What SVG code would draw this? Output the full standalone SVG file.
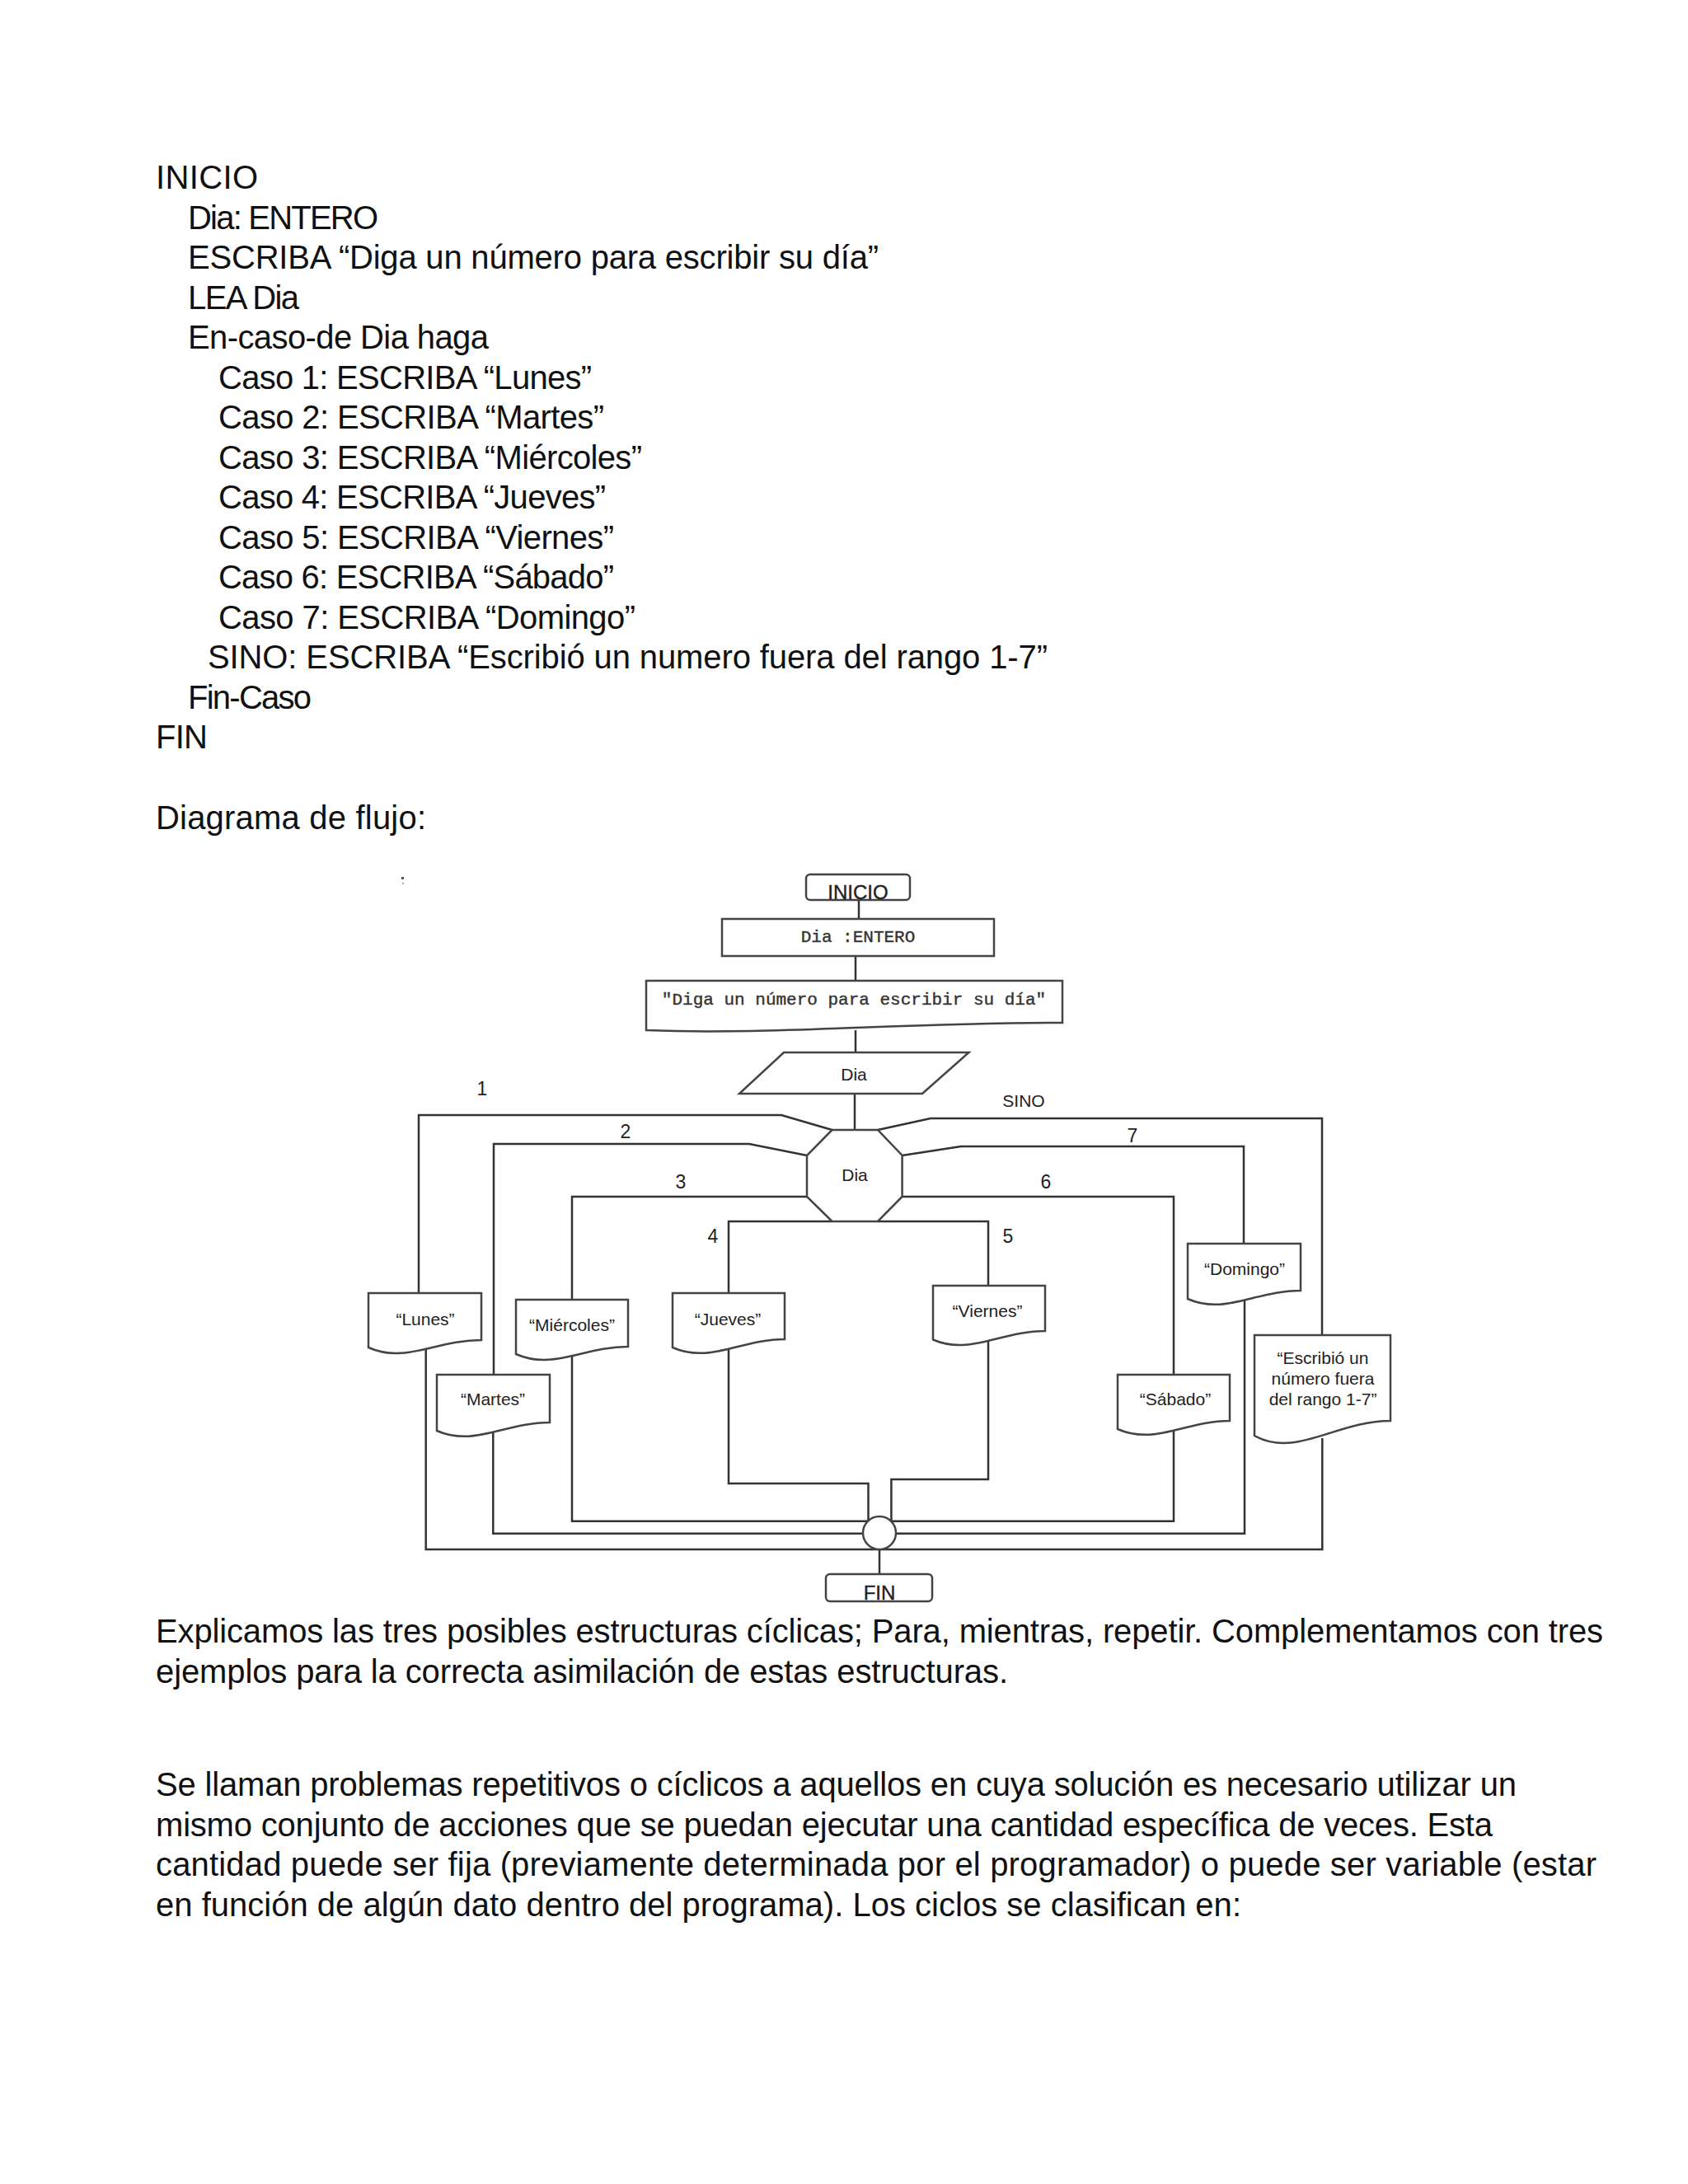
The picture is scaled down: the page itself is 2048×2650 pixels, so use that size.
<svg xmlns="http://www.w3.org/2000/svg" width="2048" height="2650" viewBox="0 0 2048 2650">
<style>
.body{font-family:"Liberation Sans",Arial,sans-serif;font-size:40px;fill:#111}
.lbl{font-family:"Liberation Sans",Arial,sans-serif;font-size:21px;fill:#222;text-anchor:middle}
.num{font-family:"Liberation Sans",Arial,sans-serif;font-size:23px;fill:#222;text-anchor:middle}
.term{font-family:"Liberation Sans",Arial,sans-serif;font-size:24px;fill:#222;text-anchor:middle;stroke:#222;stroke-width:0.4}
.mono{font-family:"Liberation Mono","Courier New",monospace;font-size:21px;fill:#333;text-anchor:middle;stroke:#333;stroke-width:0.4}
.box{fill:#fff;stroke:#444;stroke-width:2.5}
.con{fill:none;stroke:#333;stroke-width:2.5}
</style>
<rect width="2048" height="2650" fill="#fff"/>
<g id="pseudocode">
<text class="body" x="189" y="229" textLength="124">INICIO</text>
<text class="body" x="228" y="277.5" textLength="231">Dia: ENTERO</text>
<text class="body" x="228" y="326" textLength="838">ESCRIBA “Diga un número para escribir su día”</text>
<text class="body" x="228" y="374.5" textLength="135">LEA Dia</text>
<text class="body" x="228" y="423" textLength="365">En-caso-de Dia haga</text>
<text class="body" x="265" y="471.5" textLength="453">Caso 1: ESCRIBA “Lunes”</text>
<text class="body" x="265" y="520" textLength="468">Caso 2: ESCRIBA “Martes”</text>
<text class="body" x="265" y="568.5" textLength="514">Caso 3: ESCRIBA “Miércoles”</text>
<text class="body" x="265" y="617" textLength="470">Caso 4: ESCRIBA “Jueves”</text>
<text class="body" x="265" y="665.5" textLength="480">Caso 5: ESCRIBA “Viernes”</text>
<text class="body" x="265" y="714" textLength="480">Caso 6: ESCRIBA “Sábado”</text>
<text class="body" x="265" y="762.5" textLength="506">Caso 7: ESCRIBA “Domingo”</text>
<text class="body" x="252" y="811" textLength="1019">SINO: ESCRIBA “Escribió un numero fuera del rango 1-7”</text>
<text class="body" x="228" y="859.5" textLength="150">Fin-Caso</text>
<text class="body" x="189" y="908" textLength="63">FIN</text>
<text class="body" x="189" y="1006" textLength="328">Diagrama de flujo:</text>
</g>
<g id="paragraphs">
<text class="body" x="189" y="1993" textLength="1756">Explicamos las tres posibles estructuras cíclicas; Para, mientras, repetir. Complementamos con tres</text>
<text class="body" x="189" y="2042" textLength="1034">ejemplos para la correcta asimilación de estas estructuras.</text>
<text class="body" x="189" y="2179" textLength="1651">Se llaman problemas repetitivos o cíclicos a aquellos en cuya solución es necesario utilizar un</text>
<text class="body" x="189" y="2228" textLength="1622">mismo conjunto de acciones que se puedan ejecutar una cantidad específica de veces. Esta</text>
<text class="body" x="189" y="2276" textLength="1748">cantidad puede ser fija (previamente determinada por el programador) o puede ser variable (estar</text>
<text class="body" x="189" y="2325" textLength="1317">en función de algún dato dentro del programa). Los ciclos se clasifican en:</text>
</g>
<g id="speck" fill="#555">
<rect x="487" y="1064" width="3" height="3"/>
<rect x="488" y="1071" width="2" height="2" fill="#aaa"/>
</g>
<g id="connectors">
<path class="con" d="M1042,1092 V1115"/>
<path class="con" d="M1038,1160 V1190"/>
<path class="con" d="M1038,1250 V1277"/>
<path class="con" d="M1037,1327 V1371"/>
<path class="con" d="M1009.5,1371 L948,1353 H508 V1569"/>
<path class="con" d="M516.7,1636 V1880 H1604.3 V1745"/>
<path class="con" d="M1065,1371 L1129,1357 H1604 V1620"/>
<path class="con" d="M979,1402 L909,1388 H599 V1668"/>
<path class="con" d="M598.3,1736 V1860.7 H1510 V1576"/>
<path class="con" d="M1094.6,1402 L1166,1391 H1509 V1509"/>
<path class="con" d="M979,1452 H694 V1577"/>
<path class="con" d="M694,1645 V1845.7 H1424 V1734"/>
<path class="con" d="M1094.6,1452 H1424 V1668"/>
<path class="con" d="M1009.5,1482 H884 V1569"/>
<path class="con" d="M884,1636 V1800 H1053.5 V1860"/>
<path class="con" d="M1065,1482 H1199 V1560"/>
<path class="con" d="M1199,1626 V1795 H1081.4 V1860"/>
<path class="con" d="M1067,1880 V1910"/>
</g>
<g id="labels">
<text class="num" x="585" y="1329">1</text>
<text class="num" x="759" y="1381">2</text>
<text class="num" x="826" y="1442">3</text>
<text class="num" x="865" y="1508">4</text>
<text class="num" x="1223" y="1508">5</text>
<text class="num" x="1269" y="1442">6</text>
<text class="num" x="1374" y="1386">7</text>
<text class="lbl" x="1242" y="1343" font-size="22">SINO</text>
</g>
<g id="n-inicio">
<rect class="box" x="978" y="1061" width="126" height="31" rx="5"/>
<text class="term" x="1041" y="1091">INICIO</text>
</g>
<g id="n-entero">
<rect class="box" x="876" y="1115" width="330" height="45"/>
<text class="mono" x="1041" y="1143">Dia :ENTERO</text>
</g>
<g id="n-diga">
<path class="box" d="M784,1190 H1289 V1241 C1087,1241 935,1256 784,1250 Z"/>
<text class="mono" x="1036" y="1219">"Diga un número para escribir su día"</text>
</g>
<g id="n-lea">
<polygon class="box" points="951,1277 1175.5,1277 1119,1327 897,1327"/>
<text class="lbl" x="1036" y="1311" font-size="23">Dia</text>
</g>
<g id="n-caso">
<polygon class="box" points="1009.5,1371 1065,1371 1094.6,1402 1094.6,1452 1065,1482 1009.5,1482 979,1452 979,1402"/>
<text class="lbl" x="1037" y="1433" font-size="23">Dia</text>
</g>
<g id="n-lunes">
<path class="box" d="M447,1569 H584 V1626 C529,1626 492,1655 447,1635 Z"/>
<text class="lbl" x="516" y="1608">“Lunes”</text>
</g>
<g id="n-martes">
<path class="box" d="M530,1668 H667 V1726 C612,1726 575,1756 530,1736 Z"/>
<text class="lbl" x="598" y="1705">“Martes”</text>
</g>
<g id="n-miercoles">
<path class="box" d="M626,1577 H762 V1634 C708,1634 671,1663 626,1643 Z"/>
<text class="lbl" x="694" y="1615">“Miércoles”</text>
</g>
<g id="n-jueves">
<path class="box" d="M816,1569 H952 V1625 C898,1625 861,1655 816,1635 Z"/>
<text class="lbl" x="883" y="1608">“Jueves”</text>
</g>
<g id="n-viernes">
<path class="box" d="M1132,1560 H1268 V1615 C1214,1615 1177,1645 1132,1625.5 Z"/>
<text class="lbl" x="1198" y="1598">“Viernes”</text>
</g>
<g id="n-sabado">
<path class="box" d="M1356,1668 H1492 V1724 C1438,1724 1401,1754 1356,1734 Z"/>
<text class="lbl" x="1426" y="1705">“Sábado”</text>
</g>
<g id="n-domingo">
<path class="box" d="M1441,1509 H1578 V1566 C1523,1566 1486,1596 1441,1576 Z"/>
<text class="lbl" x="1510" y="1547">“Domingo”</text>
</g>
<g id="n-sino">
<path class="box" d="M1522,1620 H1687 V1724 C1621,1724 1572,1770 1522,1742 Z"/>
<text class="lbl" x="1605" y="1655">“Escribió un</text>
<text class="lbl" x="1605" y="1680">número fuera</text>
<text class="lbl" x="1605" y="1705">del rango 1-7”</text>
</g>
<g id="n-union">
<circle class="box" cx="1067" cy="1860" r="20"/>
</g>
<g id="n-fin">
<rect class="box" x="1002" y="1910" width="129" height="33" rx="5"/>
<text class="term" x="1067" y="1941">FIN</text>
</g>
</svg>
